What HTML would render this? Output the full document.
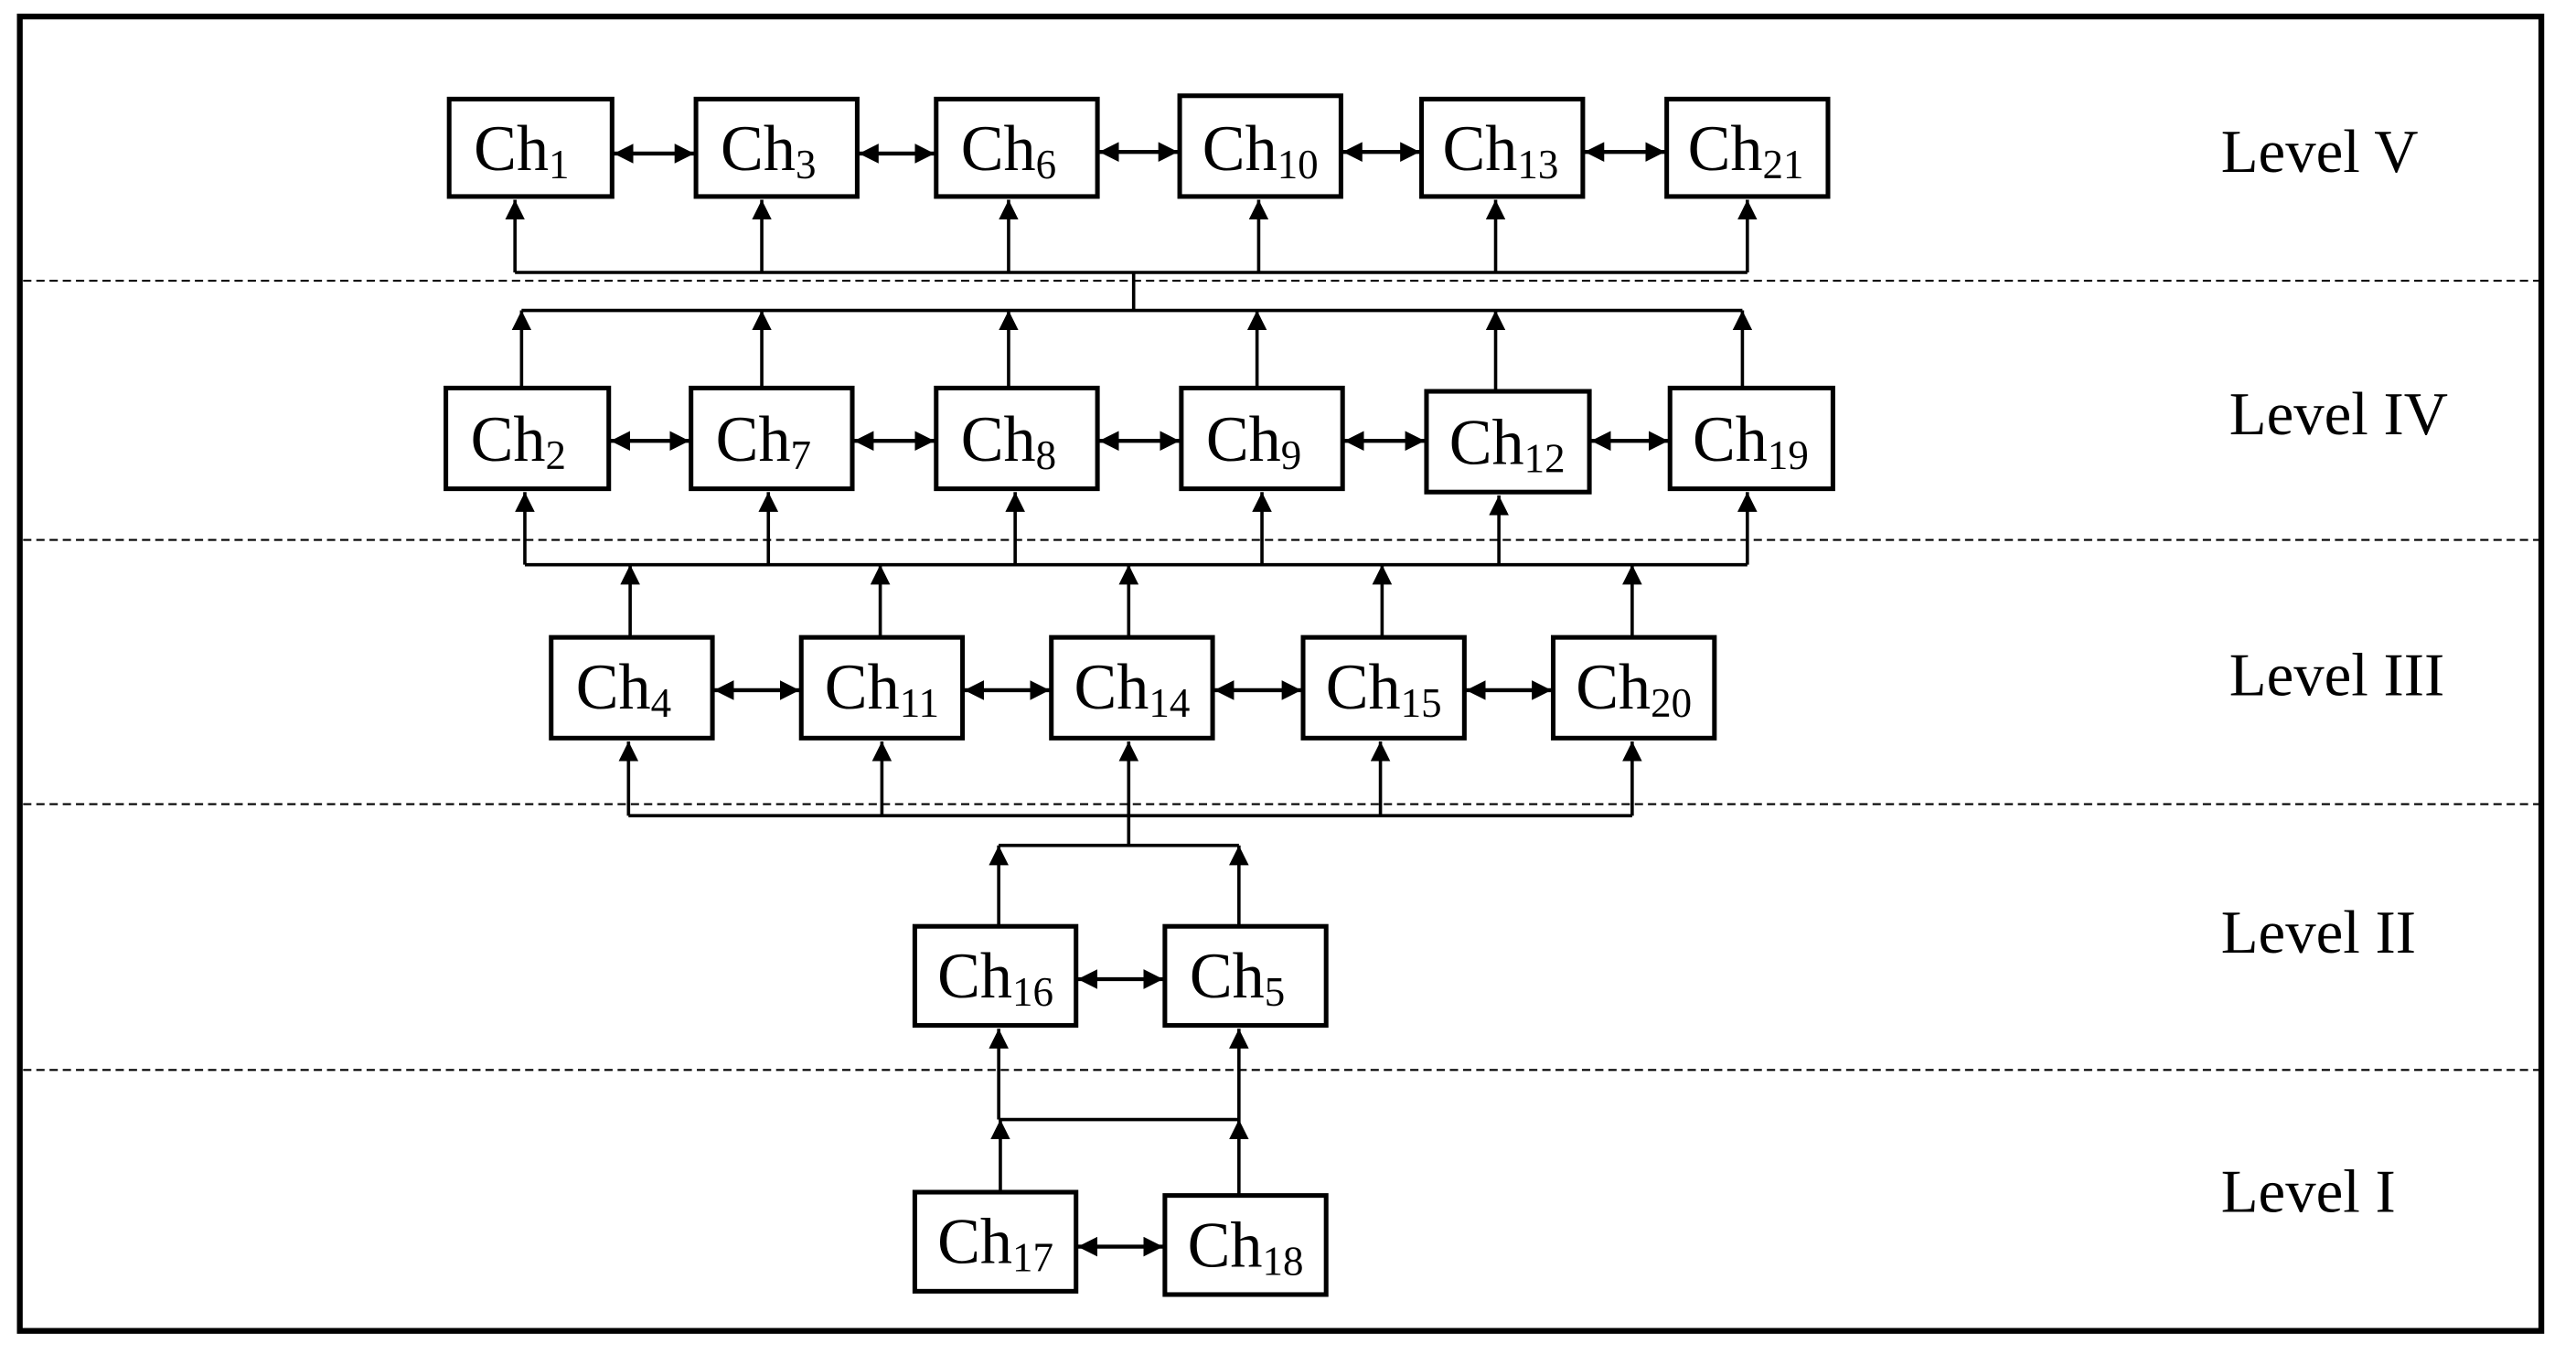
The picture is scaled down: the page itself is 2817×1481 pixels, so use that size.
<!DOCTYPE html>
<html><head><meta charset="utf-8"><style>
html,body{margin:0;padding:0;background:#fff;}
svg{display:block;}
text{font-family:"Liberation Serif",serif;fill:#000;}
</style></head><body>
<svg width="2817" height="1481" viewBox="0 0 1560 820" preserveAspectRatio="none" xmlns="http://www.w3.org/2000/svg">
<defs>
<marker id="a" viewBox="0 0 12 12" refX="12" refY="6" markerWidth="12" markerHeight="12" markerUnits="userSpaceOnUse" orient="auto-start-reverse"><path d="M0,0 L12,6 L0,12z" fill="#000"/></marker>
</defs>
<rect x="12" y="10" width="1527" height="796" fill="none" stroke="#000" stroke-width="3.5"/>
<g stroke="#000" stroke-width="1.2" stroke-dasharray="5,3">
<line x1="14" y1="170" x2="1538" y2="170"/>
<line x1="14" y1="327" x2="1538" y2="327"/>
<line x1="14" y1="487" x2="1538" y2="487"/>
<line x1="14" y1="648" x2="1538" y2="648"/>
</g>
<g font-size="37">
<text x="1345" y="104">Level V</text>
<text x="1350" y="263">Level IV</text>
<text x="1350" y="421">Level III</text>
<text x="1345" y="577">Level II</text>
<text x="1345" y="734">Level I</text>
</g>
<g transform="matrix(0.9964 0 0 1 -1 0)">
<g fill="#fff" stroke="#000" stroke-width="2.8">
<rect x="274" y="60" width="99" height="59"/><rect x="424" y="60" width="98" height="59"/><rect x="570" y="60" width="98" height="59"/><rect x="718" y="58" width="98" height="61"/><rect x="865" y="60" width="98" height="59"/><rect x="1014" y="60" width="98" height="59"/>
<rect x="272" y="235" width="99" height="61"/><rect x="421" y="235" width="98" height="61"/><rect x="570" y="235" width="98" height="61"/><rect x="719" y="235" width="98" height="61"/><rect x="868" y="237" width="99" height="61"/><rect x="1016" y="235" width="99" height="61"/>
<rect x="336" y="386" width="98" height="61"/><rect x="488" y="386" width="98" height="61"/><rect x="640" y="386" width="98" height="61"/><rect x="793" y="386" width="98" height="61"/><rect x="945" y="386" width="98" height="61"/>
<rect x="557" y="561" width="98" height="60"/><rect x="709" y="561" width="98" height="60"/>
<rect x="557" y="722" width="98" height="60"/><rect x="709" y="724" width="98" height="60"/>
</g>
<g font-size="39" text-anchor="middle">
<text x="318" y="103">Ch<tspan font-size="25" dy="5">1</tspan></text>
<text x="468" y="103">Ch<tspan font-size="25" dy="5">3</tspan></text>
<text x="614" y="103">Ch<tspan font-size="25" dy="5">6</tspan></text>
<text x="767" y="103">Ch<tspan font-size="25" dy="5">10</tspan></text>
<text x="913" y="103">Ch<tspan font-size="25" dy="5">13</tspan></text>
<text x="1062" y="103">Ch<tspan font-size="25" dy="5">21</tspan></text>
<text x="316" y="279">Ch<tspan font-size="25" dy="5">2</tspan></text>
<text x="465" y="279">Ch<tspan font-size="25" dy="5">7</tspan></text>
<text x="614" y="279">Ch<tspan font-size="25" dy="5">8</tspan></text>
<text x="763" y="279">Ch<tspan font-size="25" dy="5">9</tspan></text>
<text x="917" y="281">Ch<tspan font-size="25" dy="5">12</tspan></text>
<text x="1065" y="279">Ch<tspan font-size="25" dy="5">19</tspan></text>
<text x="380" y="429">Ch<tspan font-size="25" dy="5">4</tspan></text>
<text x="537" y="429">Ch<tspan font-size="25" dy="5">11</tspan></text>
<text x="689" y="429">Ch<tspan font-size="25" dy="5">14</tspan></text>
<text x="842" y="429">Ch<tspan font-size="25" dy="5">15</tspan></text>
<text x="994" y="429">Ch<tspan font-size="25" dy="5">20</tspan></text>
<text x="606" y="604">Ch<tspan font-size="25" dy="5">16</tspan></text>
<text x="753" y="604">Ch<tspan font-size="25" dy="5">5</tspan></text>
<text x="606" y="765">Ch<tspan font-size="25" dy="5">17</tspan></text>
<text x="758" y="767">Ch<tspan font-size="25" dy="5">18</tspan></text>
</g>
<g stroke="#000" stroke-width="2.4" marker-start="url(#a)" marker-end="url(#a)">
<line x1="374" y1="93" x2="423" y2="93"/><line x1="523" y1="93" x2="569" y2="93"/><line x1="669" y1="92" x2="717" y2="92"/><line x1="817" y1="92" x2="864" y2="92"/><line x1="964" y1="92" x2="1013" y2="92"/>
<line x1="372" y1="267" x2="420" y2="267"/><line x1="520" y1="267" x2="569" y2="267"/><line x1="669" y1="267" x2="718" y2="267"/><line x1="818" y1="267" x2="867" y2="267"/><line x1="968" y1="267" x2="1015" y2="267"/>
<line x1="435" y1="418" x2="487" y2="418"/><line x1="587" y1="418" x2="639" y2="418"/><line x1="739" y1="418" x2="792" y2="418"/><line x1="892" y1="418" x2="944" y2="418"/>
<line x1="656" y1="593" x2="708" y2="593"/>
<line x1="656" y1="755" x2="708" y2="755"/>
</g>
<g stroke="#000" stroke-width="2" fill="none">
<polyline points="314,165 1063,165"/>
<line x1="690" y1="165" x2="690" y2="188"/>
<polyline points="318,188 1060,188"/>
<polyline points="320,342 1063,342"/>
<polyline points="383,494 993,494"/>
<line x1="687" y1="494" x2="687" y2="512"/>
<polyline points="608,512 754,512"/>
<polyline points="608,678 754,678"/>
</g>
<g stroke="#000" stroke-width="2" marker-end="url(#a)">
<line x1="314" y1="165" x2="314" y2="121"/><line x1="464" y1="165" x2="464" y2="121"/><line x1="614" y1="165" x2="614" y2="121"/><line x1="766" y1="165" x2="766" y2="121"/><line x1="910" y1="165" x2="910" y2="121"/><line x1="1063" y1="165" x2="1063" y2="121"/>
<line x1="318" y1="235" x2="318" y2="188"/><line x1="464" y1="235" x2="464" y2="188"/><line x1="614" y1="235" x2="614" y2="188"/><line x1="765" y1="235" x2="765" y2="188"/><line x1="910" y1="237" x2="910" y2="188"/><line x1="1060" y1="235" x2="1060" y2="188"/>
<line x1="320" y1="342" x2="320" y2="298"/><line x1="468" y1="342" x2="468" y2="298"/><line x1="618" y1="342" x2="618" y2="298"/><line x1="768" y1="342" x2="768" y2="298"/><line x1="912" y1="342" x2="912" y2="300"/><line x1="1063" y1="342" x2="1063" y2="298"/>
<line x1="384" y1="386" x2="384" y2="342"/><line x1="536" y1="386" x2="536" y2="342"/><line x1="687" y1="386" x2="687" y2="342"/><line x1="841" y1="386" x2="841" y2="342"/><line x1="993" y1="386" x2="993" y2="342"/>
<line x1="383" y1="494" x2="383" y2="449"/><line x1="537" y1="494" x2="537" y2="449"/><line x1="687" y1="494" x2="687" y2="449"/><line x1="840" y1="494" x2="840" y2="449"/><line x1="993" y1="494" x2="993" y2="449"/>
<line x1="608" y1="561" x2="608" y2="512"/><line x1="754" y1="561" x2="754" y2="512"/>
<line x1="608" y1="678" x2="608" y2="623"/><line x1="754" y1="678" x2="754" y2="623"/>
<line x1="609" y1="722" x2="609" y2="678"/><line x1="754" y1="724" x2="754" y2="678"/>
</g>
</g>
</svg>
</body></html>
